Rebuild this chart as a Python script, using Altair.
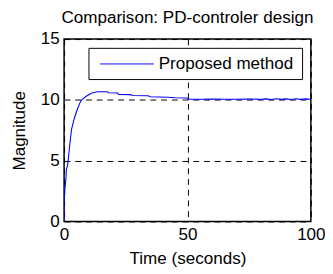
import altair as alt
import pandas as pd

time_s = [0, 0.02, 0.3, 0.7, 0.95, 1.4, 1.75, 2.4, 3.05, 4.1, 5.4, 6.4, 7.3, 9, 11, 13, 14,
          17.5, 18, 21.7, 22, 27, 27.5, 34, 35, 42, 45, 49.8, 50.2, 55, 60, 65, 70, 75, 80,
          82, 84, 86, 88, 90, 92, 94, 96, 98, 100]
magnitude = [0, 1.5, 2.6, 3.4, 4.3, 4.6, 5.2, 6.5, 7.6, 8.45, 9.25, 9.75, 10.05, 10.3, 10.55,
             10.65, 10.67, 10.67, 10.58, 10.56, 10.45, 10.43, 10.36, 10.34, 10.25, 10.22, 10.18,
             10.16, 10.06, 10.05, 10.06, 10.05, 10.05, 10.06, 10.05, 10.08, 10.03, 10.09, 10.04,
             10.08, 10.03, 10.09, 10.04, 10.08, 10.05]
x_ticks = [0, 50, 100]
y_ticks = [0, 5, 10, 15]
legend_label = "Proposed method"

df = pd.DataFrame({"t": time_s, "y": magnitude})
FONT = "Liberation Sans"
FS = 17.5

axis_common = dict(grid=True, gridColor="black", gridDash=[6, 5], gridWidth=1, gridOpacity=1,
                   ticks=False, domain=False, labelPadding=5, labelFlush=False,
                   labelFont=FONT, titleFont=FONT, labelFontSize=FS, titleFontSize=FS,
                   labelColor="black", titleColor="black", titleFontWeight="normal")

line = alt.Chart(df).mark_line(color="#0000FF", strokeWidth=1.1, clip=True).encode(
    x=alt.X("t:Q", scale=alt.Scale(domain=[0, 100], nice=False),
            axis=alt.Axis(values=x_ticks, title="Time (seconds)", titlePadding=7, **axis_common)),
    y=alt.Y("y:Q", scale=alt.Scale(domain=[0, 15], nice=False),
            axis=alt.Axis(values=y_ticks, title="Magnitude", titlePadding=12, **axis_common)),
)

one = pd.DataFrame({"a": [0]})
box = alt.Chart(one).mark_rect(fill="white", stroke="black", strokeWidth=1).encode(
    x=alt.value(25.5), x2=alt.value(244.5), y=alt.value(9.5), y2=alt.value(41.5))
swatch = alt.Chart(one).mark_rule(color="#0000FF", strokeWidth=1).encode(
    x=alt.value(37), x2=alt.value(92), y=alt.value(25.5))
label = alt.Chart(one).mark_text(align="left", baseline="middle", font=FONT, fontSize=FS,
                                 color="black").encode(
    x=alt.value(97), y=alt.value(26), text=alt.value(legend_label))

chart = alt.layer(line, box, swatch, label).properties(
    width=253, height=187,
    title=alt.TitleParams("Comparison: PD-controler design", font=FONT, fontSize=FS,
                          fontWeight="normal", color="black", anchor="middle", offset=4),
    autosize=alt.AutoSizeParams(type="none"),
    padding={"left": 57.5, "top": 28.5, "right": 14.5, "bottom": 50.5},
    background="white",
).configure_view(stroke="black", strokeWidth=1.5)

chart.save("out.html", embed_options={"renderer": "svg", "actions": False})
